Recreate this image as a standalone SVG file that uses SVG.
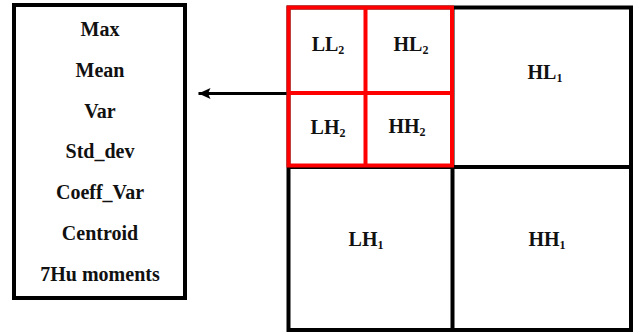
<svg xmlns="http://www.w3.org/2000/svg" width="633" height="332" viewBox="0 0 633 332">
  <style>
    .lbl { font-family: "Liberation Serif", "Times New Roman", serif; font-weight: bold; font-size: 20px; fill: #111; text-anchor: middle; }
    .sub { font-size: 12px; }
    .box { fill: #fff; stroke: #000; stroke-width: 4; }
    .blk { fill: none; stroke: #000; stroke-width: 4; }
    .red { fill: none; stroke: #ff0000; stroke-width: 4; }
  </style>
  <defs>
    <marker id="arrow" markerWidth="13" markerHeight="12" refX="12" refY="6" orient="auto" markerUnits="userSpaceOnUse">
      <path d="M0,0.5 L12,6 L0,11.5 L2.5,6 Z" fill="#000"/>
    </marker>
  </defs>
  <rect width="633" height="332" fill="#fff"/>

  <!-- feature list -->
  <g id="features">
    <rect class="box" x="14" y="5" width="171" height="293"/>
    <text class="lbl" x="100" y="36">Max</text>
    <text class="lbl" x="100" y="77">Mean</text>
    <text class="lbl" x="100" y="118">Var</text>
    <text class="lbl" x="100" y="158">Std_dev</text>
    <text class="lbl" x="100" y="199">Coeff_Var</text>
    <text class="lbl" x="100" y="240">Centroid</text>
    <text class="lbl" x="100" y="281">7Hu moments</text>
  </g>

  <!-- level-1 decomposition -->
  <g id="level1">
    <rect class="blk" x="288.5" y="7.5" width="342.5" height="322.5"/>
    <line class="blk" x1="452.5" y1="7.5" x2="452.5" y2="330"/>
    <line class="blk" x1="288.5" y1="167" x2="631" y2="167"/>
  </g>
  <g id="HL1"><text class="lbl" x="545" y="79">HL<tspan class="sub" dy="3">1</tspan></text></g>
  <g id="LH1"><text class="lbl" x="366" y="246">LH<tspan class="sub" dy="3">1</tspan></text></g>
  <g id="HH1"><text class="lbl" x="547" y="246">HH<tspan class="sub" dy="3">1</tspan></text></g>

  <!-- level-2 decomposition -->
  <g id="level2">
    <rect class="red" x="288.5" y="7.5" width="163.5" height="158"/>
    <line class="red" x1="365.5" y1="7.5" x2="365.5" y2="165.5"/>
    <line class="red" x1="288.5" y1="93" x2="452" y2="93" stroke-width="5"/>
  </g>
  <g id="LL2"><text class="lbl" x="328" y="51">LL<tspan class="sub" dy="3">2</tspan></text></g>
  <g id="HL2"><text class="lbl" x="411" y="51">HL<tspan class="sub" dy="3">2</tspan></text></g>
  <g id="LH2"><text class="lbl" x="328" y="134">LH<tspan class="sub" dy="3">2</tspan></text></g>
  <g id="HH2"><text class="lbl" x="407" y="133">HH<tspan class="sub" dy="3">2</tspan></text></g>

  <!-- connectors -->
  <g id="connectors">
    <line x1="286.5" y1="93.5" x2="198.5" y2="93.5" stroke="#000" stroke-width="3" marker-end="url(#arrow)"/>
  </g>
</svg>
